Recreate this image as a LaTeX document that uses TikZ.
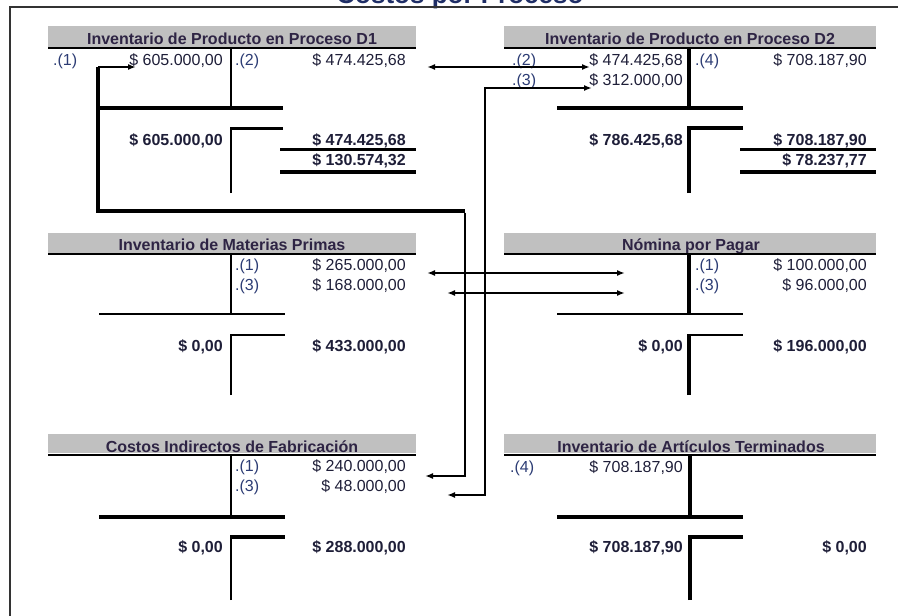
\documentclass[tikz,border=0pt]{standalone}
\usepackage{fontspec}
\setmainfont{Liberation Sans}
\usetikzlibrary{arrows.meta}
\definecolor{hdrgray}{HTML}{C0C0C0}
\definecolor{hdrtext}{HTML}{2E2444}
\definecolor{numtext}{HTML}{1E1E38}
\definecolor{reftext}{HTML}{2C3C74}
\definecolor{framecol}{HTML}{333333}
\definecolor{titletext}{HTML}{1F2E66}

\tikzset{
  hdrbar/.style={fill=hdrgray, draw=none},
  hdrlabel/.style={anchor=base, inner sep=0pt, font=\fontsize{16}{18}\selectfont\bfseries, text=hdrtext},
  amt/.style={anchor=base east, inner sep=0pt, font=\fontsize{16}{18}\selectfont, text=numtext},
  tot/.style={anchor=base east, inner sep=0pt, font=\fontsize{16}{18}\selectfont\bfseries, text=numtext},
  ref/.style={anchor=base west, inner sep=0pt, font=\fontsize{16}{18}\selectfont, text=reftext},
  hdrrule/.style={line width=2pt},
  thinrule/.style={line width=1.8pt},
  midrule/.style={line width=2.6pt},
  thickrule/.style={line width=3.8pt},
  tip/.tip={Latex[length=8pt,width=6pt]},
  oneway/.style={line width=1.6pt, -tip},
  twoway/.style={line width=1.6pt, tip-tip},
}

\begin{document}
\begin{tikzpicture}[x=1pt,y=-1pt]
\useasboundingbox (0,0) rectangle (898,616);

% title (partly above the sheet) and sheet frame
\node[anchor=base, inner sep=0pt, font=\fontsize{26}{30}\selectfont\bfseries, text=titletext]
  (title) at (460,3) {Costos por Proceso};
\draw[line width=2pt, framecol] (10,616) -- (10,7) -- (898,7);

% ---------- Inventario de Producto en Proceso D1 ----------
\fill[hdrbar] (48,26) rectangle (416,47);
\node[hdrlabel] (d1h) at (232,44) {Inventario de Producto en Proceso D1};
\draw[hdrrule] (48,48) -- (416,48);
\draw[line width=1.7pt] (231,48) -- (231,110);
\draw[thickrule] (100,108) -- (283,108);
\draw[line width=2pt] (231,193) -- (231,126.5);
\draw[line width=3pt] (230,128) -- (283,128);
\node[ref] (d1r1) at (53,65) {.(1)};
\node[amt] (d1a1) at (223,65) {\$ 605.000,00};
\node[ref] (d1r2) at (235,65) {.(2)};
\node[amt] (d1b1) at (406,65) {\$ 474.425,68};
\node[tot] (d1ta) at (223,145) {\$ 605.000,00};
\node[tot] (d1tb) at (406,145) {\$ 474.425,68};
\draw[thickrule] (280,149.5) -- (416,149.5);
\node[tot] (d1s) at (406,165) {\$ 130.574,32};
\draw[thickrule] (280,172) -- (416,172);

% ---------- Inventario de Producto en Proceso D2 ----------
\fill[hdrbar] (504,26) rectangle (876,47);
\node[hdrlabel] (d2h) at (690,44) {Inventario de Producto en Proceso D2};
\draw[hdrrule] (504,48) -- (876,48);
\draw[thickrule] (689,48) -- (689,108);
\draw[thickrule] (557,108) -- (743,108);
\draw[thickrule] (689,193) -- (689,126.1);
\draw[thickrule] (687.1,128) -- (743,128);
\node[ref] (d2r2) at (512,65) {.(2)};
\node[amt] (d2a2) at (683,65) {\$ 474.425,68};
\node[ref] (d2r4) at (695,65) {.(4)};
\node[amt] (d2b4) at (867,65) {\$ 708.187,90};
\node[ref] (d2r3) at (512,85) {.(3)};
\node[amt] (d2a3) at (683,85) {\$ 312.000,00};
\node[tot] (d2ta) at (683,145) {\$ 786.425,68};
\node[tot] (d2tb) at (867,145) {\$ 708.187,90};
\draw[thickrule] (740,149.5) -- (876,149.5);
\node[tot] (d2s) at (867,165) {\$ 78.237,77};
\draw[thickrule] (740,172) -- (876,172);

% ---------- Inventario de Materias Primas ----------
\fill[hdrbar] (48,233) rectangle (416,253);
\node[hdrlabel] (mph) at (232,250) {Inventario de Materias Primas};
\draw[hdrrule] (48,254) -- (416,254);
\draw[thinrule] (231,254) -- (231,314);
\draw[thinrule] (99,314) -- (285,314);
\draw[thinrule] (231,395) -- (231,334.1);
\draw[thinrule] (230.1,335) -- (285,335);
\node[ref] (mpr1) at (235,270) {.(1)};
\node[amt] (mpb1) at (406,270) {\$ 265.000,00};
\node[ref] (mpr3) at (235,290) {.(3)};
\node[amt] (mpb3) at (406,290) {\$ 168.000,00};
\node[tot] (mpta) at (223,351) {\$ 0,00};
\node[tot] (mptb) at (406,351) {\$ 433.000,00};

% ---------- Nómina por Pagar ----------
\fill[hdrbar] (504,233) rectangle (876,253);
\node[hdrlabel] (nph) at (691,250) {Nómina por Pagar};
\draw[hdrrule] (504,254) -- (876,254);
\draw[thickrule] (689,254) -- (689,314);
\draw[thinrule] (557,314) -- (743,314);
\draw[thickrule] (689,395) -- (689,333.7);
\draw[midrule] (687.1,335) -- (743,335);
\node[ref] (npr1) at (695,270) {.(1)};
\node[amt] (npb1) at (867,270) {\$ 100.000,00};
\node[ref] (npr3) at (695,290) {.(3)};
\node[amt] (npb3) at (867,290) {\$ 96.000,00};
\node[tot] (npta) at (683,351) {\$ 0,00};
\node[tot] (nptb) at (867,351) {\$ 196.000,00};

% ---------- Costos Indirectos de Fabricación ----------
\fill[hdrbar] (48,434) rectangle (416,453);
\node[hdrlabel] (cifh) at (232,452) {Costos Indirectos de Fabricación};
\draw[hdrrule] (48,455) -- (416,455);
\draw[thinrule] (231,455) -- (231,517);
\draw[thickrule] (99,517) -- (285,517);
\draw[thinrule] (231,600) -- (231,535.1);
\draw[thickrule] (230.1,537) -- (285,537);
\node[ref] (cifr1) at (235,471) {.(1)};
\node[amt] (cifb1) at (406,471) {\$ 240.000,00};
\node[ref] (cifr3) at (235,491) {.(3)};
\node[amt] (cifb3) at (406,491) {\$ 48.000,00};
\node[tot] (cifta) at (223,552) {\$ 0,00};
\node[tot] (ciftb) at (406,552) {\$ 288.000,00};

% ---------- Inventario de Artículos Terminados ----------
\fill[hdrbar] (504,434) rectangle (876,453);
\node[hdrlabel] (iath) at (691,452) {Inventario de Artículos Terminados};
\draw[hdrrule] (504,455) -- (876,455);
\draw[thickrule] (690,455) -- (690,517);
\draw[thickrule] (557,517) -- (743,517);
\draw[thickrule] (690,600) -- (690,535.1);
\draw[thickrule] (688.1,537) -- (743,537);
\node[ref] (iatr4) at (510,472) {.(4)};
\node[amt] (iata4) at (683,472) {\$ 708.187,90};
\node[tot] (iatta) at (683,552) {\$ 708.187,90};
\node[tot] (iattb) at (867,552) {\$ 0,00};

% ---------- connectors between entries ----------
% entry (1): D1 debit <-> CIF credit
\coordinate (k1top)  at (98,67);
\coordinate (k1tip)  at (136,67);
\coordinate (k1bend) at (98,211);
\coordinate (k1drop) at (465,211);
\coordinate (k1low)  at (465,476);
\coordinate (k1end)  at (425,476);
\draw[thickrule, line join=miter] (k1top) -- (k1bend) -- (k1drop);
\draw[oneway] (k1top) -- (k1tip);
\draw[line width=2.2pt] ([yshift=-1.5pt]k1drop) -- (k1low);
\draw[oneway] ([xshift=1pt]k1low) -- (k1end);

% entry (2): D1 credit <-> D2 debit
\coordinate (k2a) at (427,67);
\coordinate (k2b) at (590,67);
\draw[twoway] (k2a) -- (k2b);

% entry (3): CIF credit <-> D2 debit
\coordinate (k3tip)    at (592,88);
\coordinate (k3corner) at (485,88);
\coordinate (k3low)    at (485,495);
\coordinate (k3end)    at (447,495);
\draw[line width=1.8pt, tip-tip] (k3end) -- (k3low) -- (k3corner) -- (k3tip);

% MP credits <-> payroll credits
\coordinate (k4a) at (427,273);
\coordinate (k4b) at (625,273);
\draw[twoway] (k4a) -- (k4b);
\coordinate (k5a) at (447,293);
\coordinate (k5b) at (625,293);
\draw[twoway] (k5a) -- (k5b);
\end{tikzpicture}
\end{document}
